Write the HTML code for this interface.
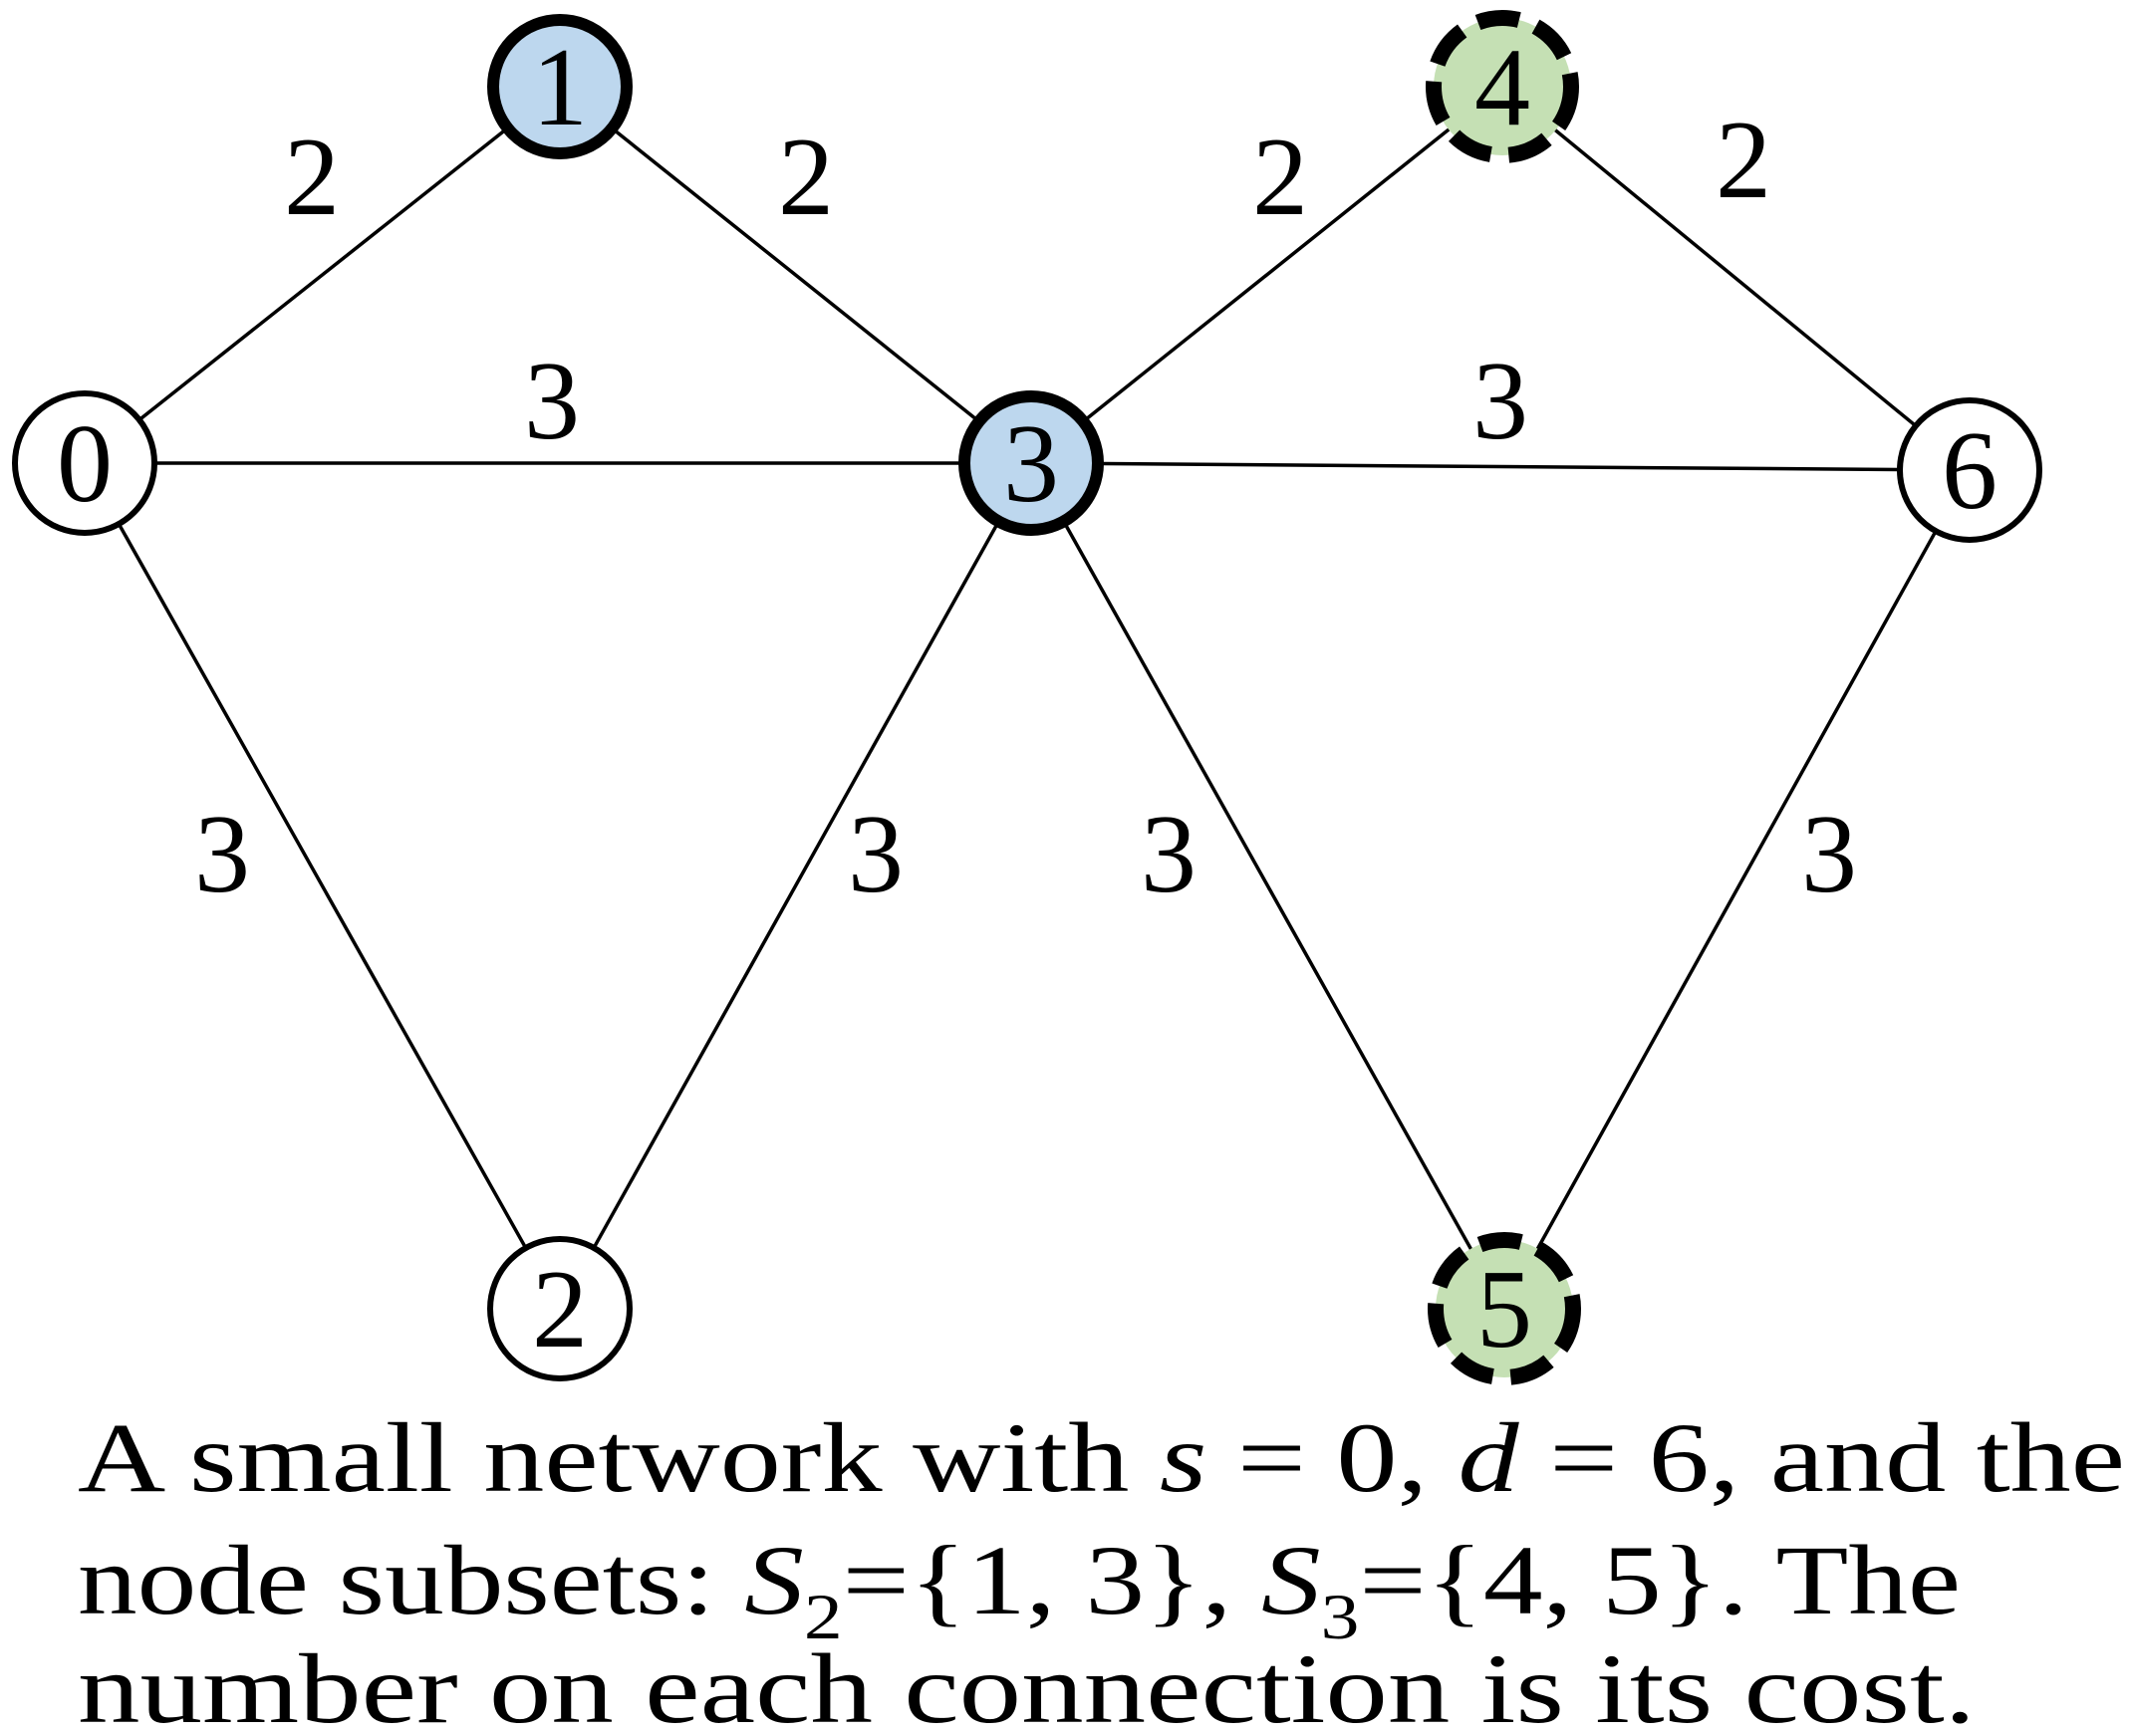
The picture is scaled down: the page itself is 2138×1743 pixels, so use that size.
<!DOCTYPE html>
<html><head><style>body{margin:0;background:#fff}svg{display:block}text{font-family:"Liberation Serif","Times New Roman",serif}</style></head>
<body>
<svg width="2138" height="1743" xmlns="http://www.w3.org/2000/svg">
<g stroke="#000" stroke-width="3.5">
<line x1="85" y1="465" x2="562" y2="87"/>
<line x1="562" y1="87" x2="1035" y2="465"/>
<line x1="85" y1="465" x2="1035" y2="465"/>
<line x1="1035" y1="465" x2="1508" y2="87"/>
<line x1="1508" y1="87" x2="1977" y2="472"/>
<line x1="1035" y1="465" x2="1977" y2="472"/>
<line x1="85" y1="465" x2="562" y2="1314"/>
<line x1="1035" y1="465" x2="562" y2="1314"/>
<line x1="1035" y1="465" x2="1510" y2="1314"/>
<line x1="1977" y1="472" x2="1510" y2="1314"/>
</g>
<g stroke="#000">
<circle cx="85" cy="465" r="70" fill="#fff" stroke-width="6"/>
<circle cx="562" cy="1314" r="70" fill="#fff" stroke-width="6"/>
<circle cx="1977" cy="472" r="70" fill="#fff" stroke-width="6"/>
<circle cx="562" cy="87" r="67" fill="#bdd7ee" stroke-width="12"/>
<circle cx="1035" cy="465" r="67" fill="#bdd7ee" stroke-width="12"/>
<circle cx="1508" cy="87" r="69" fill="#c5e0b4" stroke-width="16" stroke-dasharray="42 18"/>
<circle cx="1510" cy="1314" r="69" fill="#c5e0b4" stroke-width="16" stroke-dasharray="42 18"/>
</g>
<g font-size="112" text-anchor="middle">
<text x="85" y="503">0</text>
<text x="562" y="125">1</text>
<text x="562" y="1352">2</text>
<text x="1035" y="503">3</text>
<text x="1508" y="125">4</text>
<text x="1510" y="1352">5</text>
<text x="1977" y="510">6</text>
</g>
<g font-size="112" text-anchor="middle">
<text x="313" y="215">2</text>
<text x="809" y="215">2</text>
<text x="1285" y="215">2</text>
<text x="1750" y="198">2</text>
<text x="554" y="440">3</text>
<text x="1506" y="440">3</text>
<text x="223" y="895">3</text>
<text x="879" y="895">3</text>
<text x="1173" y="895">3</text>
<text x="1836" y="895">3</text>
</g>
<g font-size="100">
<text x="78" y="1497" textLength="2055" lengthAdjust="spacingAndGlyphs">A small network with <tspan font-style="italic">s</tspan> = 0, <tspan font-style="italic">d</tspan> = 6, and the</text>
<text x="78" y="1620" textLength="1890" lengthAdjust="spacingAndGlyphs">node subsets:  <tspan font-style="italic">S</tspan><tspan font-size="65" dy="25">2</tspan><tspan dy="-25">={1, 3}, </tspan><tspan font-style="italic">S</tspan><tspan font-size="65" dy="25">3</tspan><tspan dy="-25">={4, 5}. The</tspan></text>
<text x="78" y="1729" textLength="1905" lengthAdjust="spacingAndGlyphs">number on each connection is its cost.</text>
</g>
</svg>
</body></html>
